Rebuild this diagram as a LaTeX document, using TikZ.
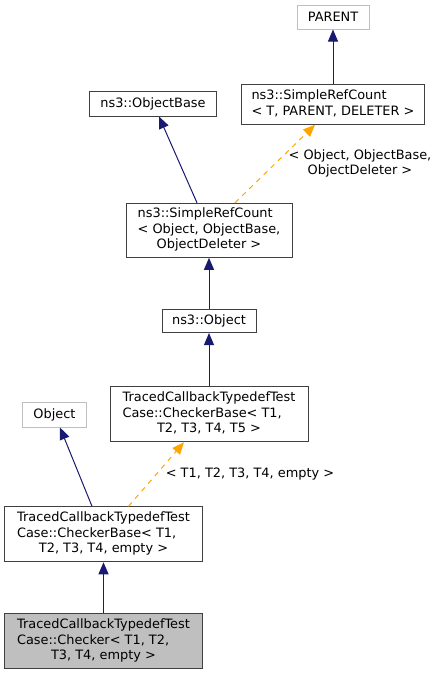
\documentclass[tikz,border=0pt]{standalone}
\usepackage{fontspec}
\setmainfont{DejaVu Sans}
\usetikzlibrary{arrows.meta}
\definecolor{navy}{HTML}{191970}
\definecolor{orng}{HTML}{FFA500}
\definecolor{bord}{HTML}{404040}
\definecolor{gbord}{HTML}{BFBFBF}
\definecolor{gfill}{HTML}{BFBFBF}
\newcommand{\lastline}[1]{\multicolumn{1}{@{}c@{}}{#1}}
\begin{document}
\begin{tikzpicture}[x=1pt,y=-1pt,
  cls/.style={draw=bord, line width=1pt, fill=white, inner sep=0pt, rectangle,
    font=\fontsize{12.9}{15.5}\selectfont},
  ext/.style={cls, draw=gbord},
  cur/.style={cls, fill=gfill},
  inh/.style={navy, line width=1pt, -{Triangle[width=10pt,length=12pt]}},
  tmpl/.style={orng, line width=1pt, dash pattern=on 5pt off 5pt, -{Triangle[width=10pt,length=12pt]}},
  lbl/.style={inner sep=0pt, font=\fontsize{12.9}{15.5}\selectfont}
]
\useasboundingbox (0,0) rectangle (439,675);

\node[ext, minimum width=72pt, minimum height=24pt] (parent) at (333,17) {PARENT};
\node[cls, minimum width=183pt, minimum height=40pt] (srcT) at (333,104.3)
  {\begin{tabular}{@{}l@{}}ns3::SimpleRefCount\\\lastline{< T, PARENT, DELETER >}\end{tabular}};
\node[cls, minimum width=127pt, minimum height=25pt] (objbase) at (153,103.5) {ns3::ObjectBase};
\node[cls, minimum width=166pt, minimum height=54pt] (srcO) at (209,230.3)
  {\begin{tabular}{@{}l@{}}ns3::SimpleRefCount\\< Object, ObjectBase,\\\lastline{ObjectDeleter >}\end{tabular}};
\node[cls, minimum width=94pt, minimum height=23pt] (object) at (209,321) {ns3::Object};
\node[cls, minimum width=198pt, minimum height=55pt] (cbT5) at (209,414.3)
  {\begin{tabular}{@{}l@{}}TracedCallbackTypedefTest\\Case::CheckerBase< T1,\\\lastline{T2, T3, T4, T5 >}\end{tabular}};
\node[ext, minimum width=64pt, minimum height=25pt] (objgray) at (54.5,414.5) {Object};
\node[cls, minimum width=198pt, minimum height=55pt] (cbE) at (103.5,534.3)
  {\begin{tabular}{@{}l@{}}TracedCallbackTypedefTest\\Case::CheckerBase< T1,\\\lastline{T2, T3, T4, empty >}\end{tabular}};
\node[cur, minimum width=198pt, minimum height=55pt] (checker) at (103.5,641)
  {\begin{tabular}{@{}l@{}}TracedCallbackTypedefTest\\Case::Checker< T1, T2,\\\lastline{T3, T4, empty >}\end{tabular}};

\draw[inh] (srcT) -- (parent);
\draw[inh] ([xshift=-12pt]srcO.north) -- ([xshift=6pt]objbase.south);
\draw[tmpl] ([xshift=26pt]srcO.north) -- ([xshift=-18pt]srcT.south);
\node[lbl, align=center] (lblO) at (360,163.5) {< Object, ObjectBase,\\ObjectDeleter >};
\draw[inh] (object) -- (srcO);
\draw[inh] (cbT5) -- (object);
\draw[inh] ([xshift=-11.5pt]cbE.north) -- ([xshift=5.5pt]objgray.south);
\draw[tmpl] ([xshift=25pt]cbE.north) -- ([xshift=-25pt]cbT5.south);
\node[lbl] (lblE) at (250,474) {< T1, T2, T3, T4, empty >};
\draw[inh] (checker) -- (cbE);
\end{tikzpicture}
\end{document}
